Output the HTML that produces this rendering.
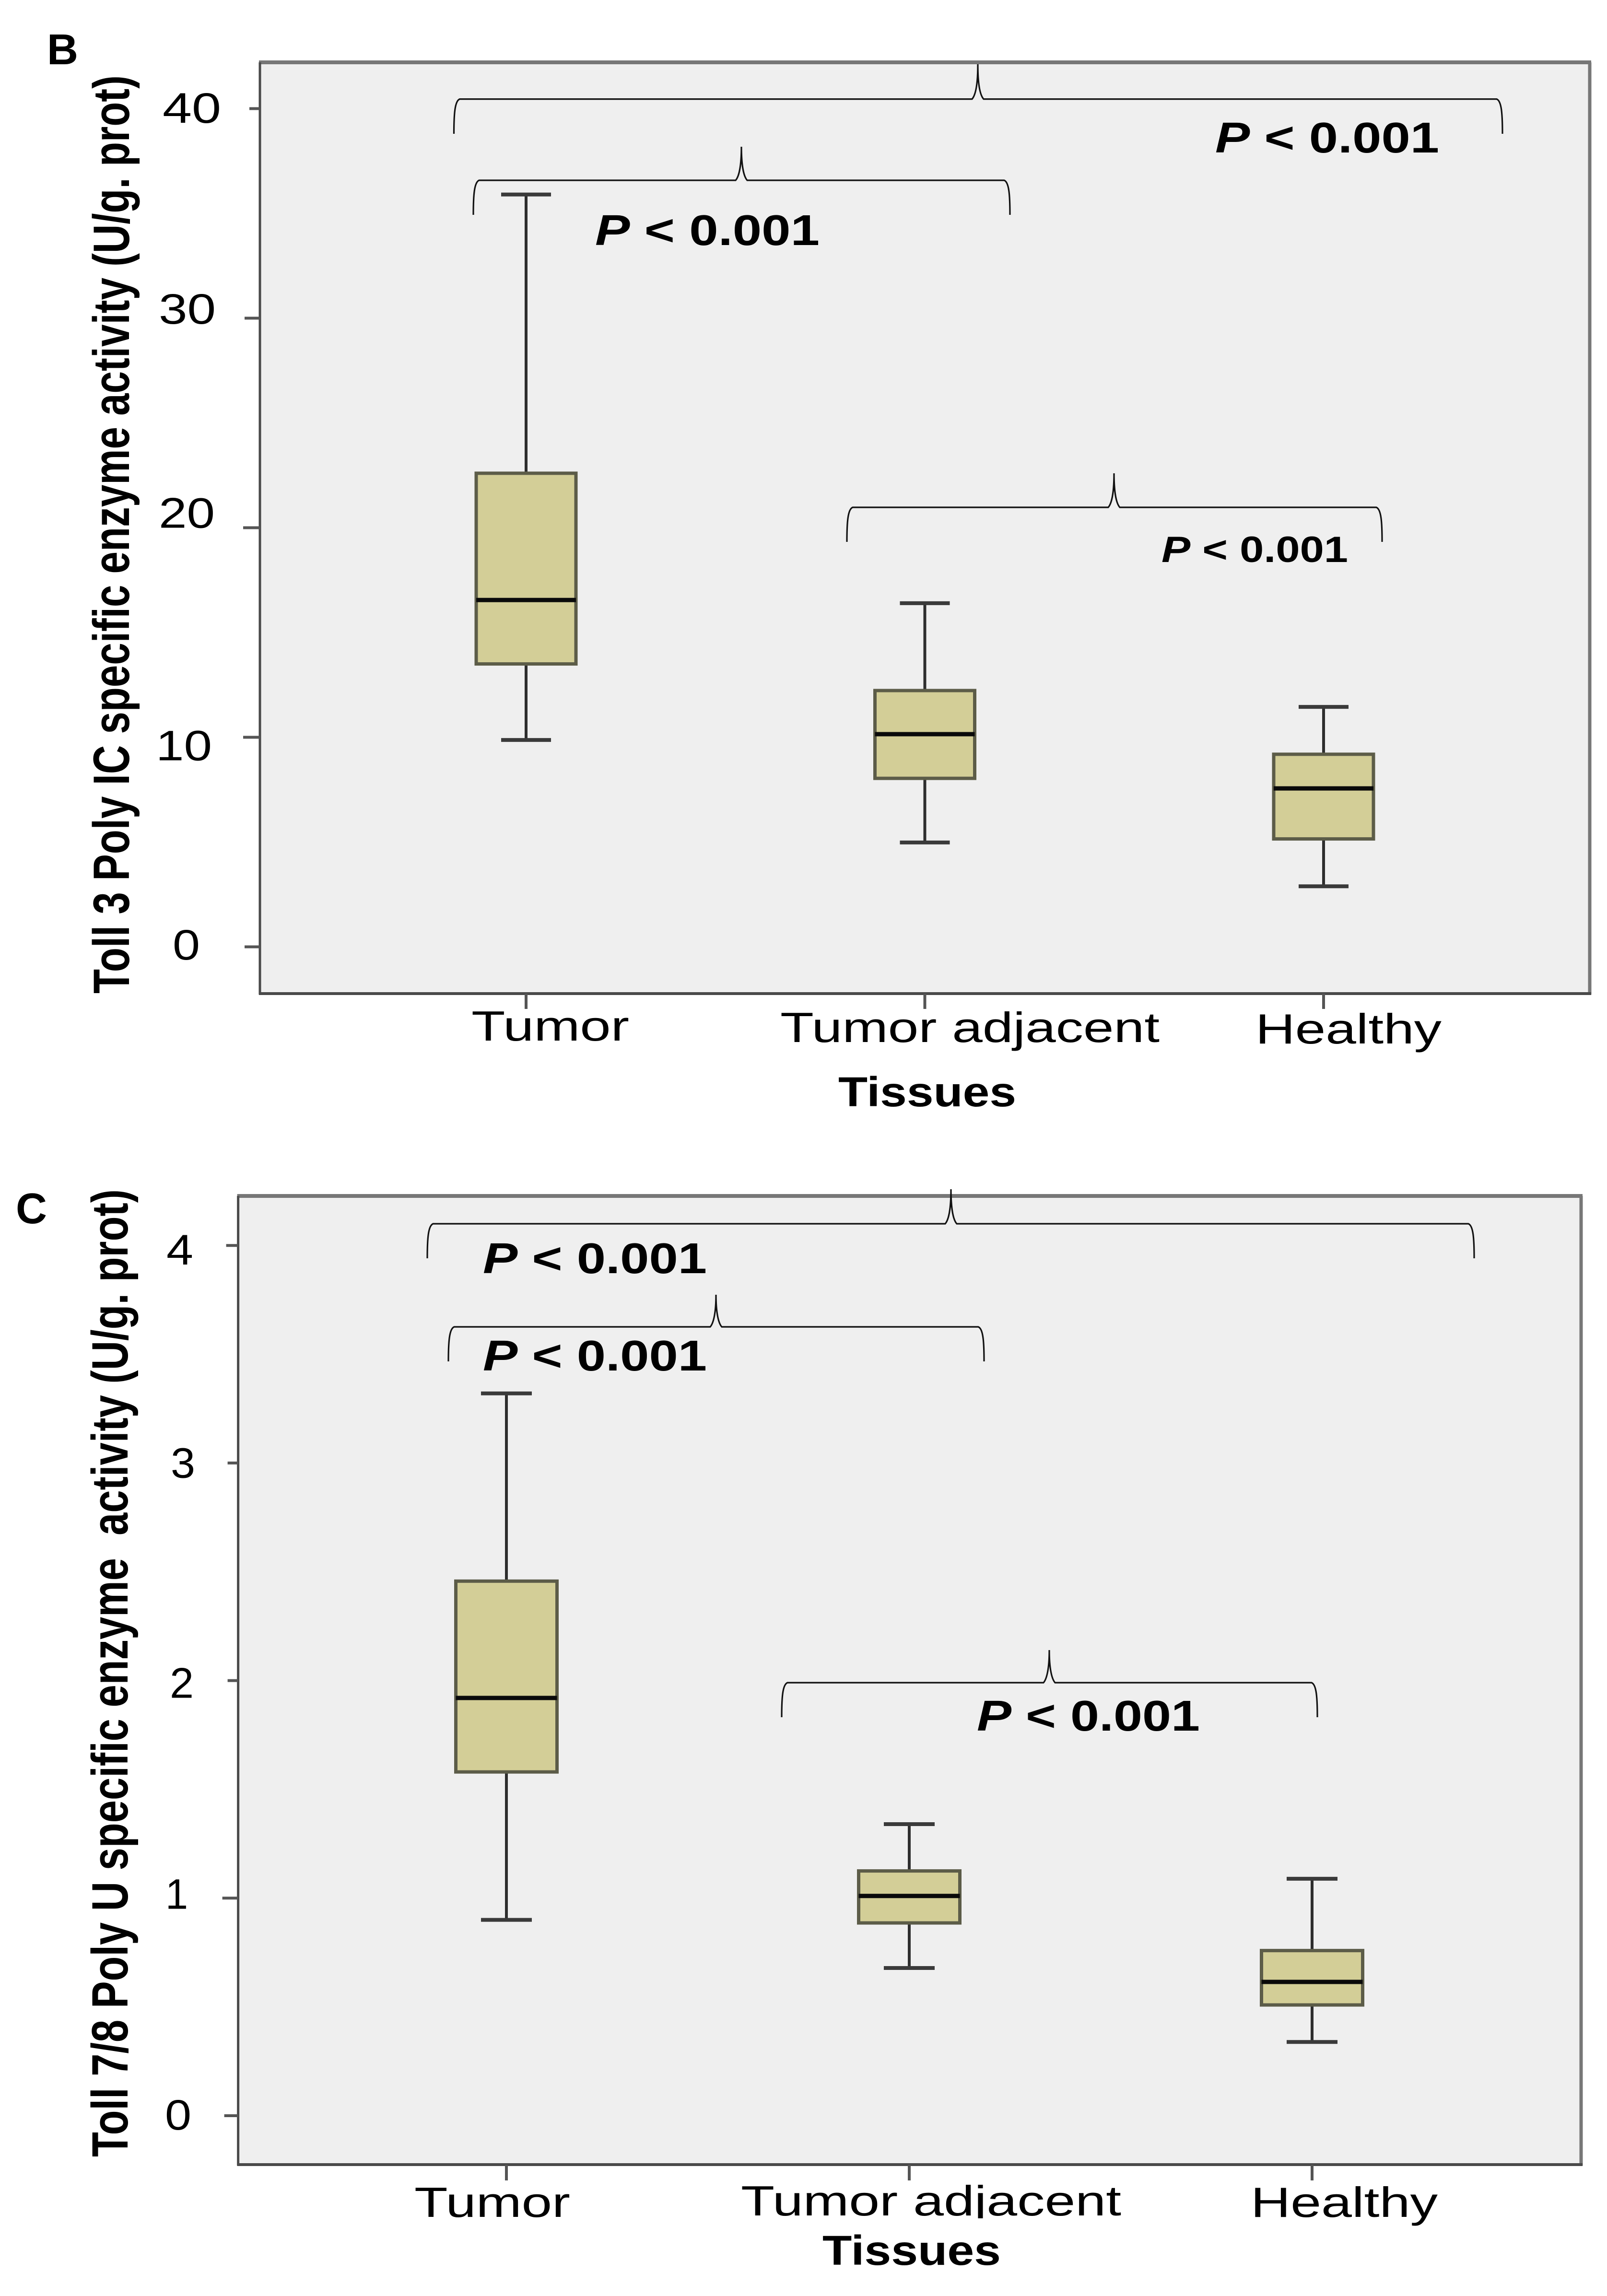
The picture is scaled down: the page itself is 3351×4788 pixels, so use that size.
<!DOCTYPE html>
<html lang="en">
<head>
<meta charset="utf-8">
<title>Toll-like receptor enzyme activity by tissue</title>
<style>
html,body{margin:0;padding:0;background:#fff;width:3351px;height:4788px;overflow:hidden}
svg{display:block}
text{font-family:"Liberation Sans",sans-serif;fill:#000}
</style>
</head>
<body>
<svg id="figure" xmlns="http://www.w3.org/2000/svg" width="3351" height="4788" viewBox="0 0 3351 4788"></svg>
<script>
// ---- chart data ----
const categories = ['Tumor', 'Tumor adjacent', 'Healthy'];

const panelBTickValues = [0, 10, 20, 30, 40];
const panelBTickLabels = ['0', '10', '20', '30', '40'];
const panelBLow = [9.87, 4.98, 2.89];
const panelBQ1 = [13.5, 8.04, 5.15];
const panelBMedian = [16.55, 10.15, 7.56];
const panelBQ3 = [22.6, 12.23, 9.19];
const panelBHigh = [35.9, 16.4, 11.45];

const panelCTickValues = [0, 1, 2, 3, 4];
const panelCTickLabels = ['0', '1', '2', '3', '4'];
const panelCLow = [0.90, 0.679, 0.339];
const panelCQ1 = [1.58, 0.886, 0.509];
const panelCMedian = [1.92, 1.01, 0.615];
const panelCQ3 = [2.457, 1.125, 0.759];
const panelCHigh = [3.32, 1.34, 1.089];

// ---- layout (pixels, not data) ----
const layoutB = {
  prefix: 'panel-b', letter: 'B', letterX: 98, letterY: 134,
  left: 542, right: 3315, top: 130, bottom: 2072,
  zeroY: 1974.5, unit: 43.7,
  firstX: 1097, stepX: 831.5,
  boxHalf: 104, capHalf: 52, tickDrop: 32,
  tickStub: [32, 35, 35, 32, 22],
  tickTextX: [360, 325, 331, 331, 339],
  tickTextW: [57, 117, 117, 119, 122],
  tickTextShift: [26.5, 48, 0, 11.5, 29.5],
  catTextX: [983, 1627, 2618], catTextW: [329, 791, 388], catTextY: [2170, 2173, 2176],
  xTitleX: 1748, xTitleW: 371, xTitleY: 2307,
  yTitle: 'Toll 3 Poly IC specific enzyme activity (U/g. prot)',
  yTitleX: 269, yTitleBottom: 2072, yTitleLen: 1915,
  braces: [
    {xl: 946.5, xr: 3133, ym: 206.6, yb: 279, ax: 2039, ay: 134},
    {xl: 987, xr: 2106, ym: 376, yb: 448, ax: 1546, ay: 306},
    {xl: 1766, xr: 2882, ym: 1058, yb: 1130, ax: 2323, ay: 987}
  ],
  pvals: [
    {x: 2534, w: 467, y: 318, size: 90},
    {x: 1241, w: 468, y: 511, size: 90},
    {x: 2422, w: 389, y: 1172, size: 76}
  ]
};
const layoutC = {
  prefix: 'panel-c', letter: 'C', letterX: 33, letterY: 2551,
  left: 496.6, right: 3297, top: 2494, bottom: 4514,
  zeroY: 4412, unit: 453.7,
  firstX: 1056, stepX: 840,
  boxHalf: 105.5, capHalf: 53, tickDrop: 33,
  tickStub: [29, 33, 22, 22, 25],
  tickTextX: [344, 345, 354, 356, 347],
  tickTextW: [55, 47, 50, 51, 56],
  tickTextShift: [29, 22.4, 36, 30.5, 40],
  catTextX: [864, 1545, 2608], catTextW: [325, 793, 390], catTextY: [4623, 4620, 4623],
  xTitleX: 1715, xTitleW: 372, xTitleY: 4723,
  yTitle: 'Toll 7/8 Poly U specific enzyme  activity (U/g. prot)',
  yTitleX: 266, yTitleBottom: 4498, yTitleLen: 2018,
  braces: [
    {xl: 891, xr: 3074, ym: 2552, yb: 2624, ax: 1983, ay: 2480},
    {xl: 935, xr: 2052, ym: 2767, yb: 2839, ax: 1493, ay: 2700},
    {xl: 1630, xr: 2747, ym: 3509, yb: 3581, ax: 2188, ay: 3441}
  ],
  pvals: [
    {x: 1007, w: 467, y: 2655, size: 90},
    {x: 1007, w: 467, y: 2858, size: 90},
    {x: 2037, w: 465, y: 3609, size: 90}
  ]
};

const SVGNS = 'http://www.w3.org/2000/svg';
const root = document.getElementById('figure');

function add(parent, tag, attrs, content) {
  const node = document.createElementNS(SVGNS, tag);
  for (const k in attrs) node.setAttribute(k, attrs[k]);
  if (content !== undefined) node.textContent = content;
  parent.appendChild(node);
  return node;
}
function slug(s) { return s.toLowerCase().replace(/\s+/g, '-'); }

function drawPanel(L, tickValues, tickLabels, low, q1, med, q3, high) {
  const yScale = v => L.zeroY - v * L.unit;
  const xScale = i => L.firstX + i * L.stepX;

  const panel = add(root, 'g', {});
  
  

  const letter = add(panel, 'text', {x: L.letterX, y: L.letterY, 'font-size': 90, 'font-weight': 700}, L.letter);
  
  

  const bg = add(panel, 'rect', {x: L.left, y: L.top, width: L.right - L.left, height: L.bottom - L.top, fill: '#efefef'});
  
  

  const frameTop = add(panel, 'line', {x1: L.left - 2, x2: L.right + 3, y1: L.top, y2: L.top, stroke: '#777', 'stroke-width': 8});
  
  

  const frameRight = add(panel, 'line', {x1: L.right, x2: L.right, y1: L.top, y2: L.bottom + 2, stroke: '#777', 'stroke-width': 7});
  
  

  const axisY = add(panel, 'line', {x1: L.left, x2: L.left, y1: L.top, y2: L.bottom + 2, stroke: '#4a4a4a', 'stroke-width': 5});
  
  

  const axisX = add(panel, 'line', {x1: L.left - 2, x2: L.right + 3, y1: L.bottom, y2: L.bottom, stroke: '#4a4a4a', 'stroke-width': 6});
  
  

  tickValues.forEach((v, i) => {
    const tick = add(panel, 'line', {x1: L.left - L.tickStub[i], x2: L.left, y1: yScale(v), y2: yScale(v), stroke: '#555', 'stroke-width': 6});
    
    

    const label = add(panel, 'text', {x: L.tickTextX[i], y: yScale(v) + L.tickTextShift[i], 'font-size': 89, textLength: L.tickTextW[i], lengthAdjust: 'spacingAndGlyphs'}, tickLabels[i]);
    
    
  });

  categories.forEach((cat, i) => {
    const cx = xScale(i);
    const group = add(panel, 'g', {});
    
    

    const whisker = add(group, 'line', {x1: cx, x2: cx, y1: yScale(high[i]), y2: yScale(low[i]), stroke: '#2e2e2e', 'stroke-width': 6});
    
    

    const capHigh = add(group, 'line', {x1: cx - L.capHalf, x2: cx + L.capHalf, y1: yScale(high[i]), y2: yScale(high[i]), stroke: '#3a3a3a', 'stroke-width': 8});
    
    

    const capLow = add(group, 'line', {x1: cx - L.capHalf, x2: cx + L.capHalf, y1: yScale(low[i]), y2: yScale(low[i]), stroke: '#3a3a3a', 'stroke-width': 8});
    
    

    const box = add(group, 'rect', {x: cx - L.boxHalf, y: yScale(q3[i]), width: L.boxHalf * 2, height: yScale(q1[i]) - yScale(q3[i]), fill: '#d3ce97', stroke: '#5c5c48', 'stroke-width': 7});
    
    

    const median = add(group, 'line', {x1: cx - L.boxHalf, x2: cx + L.boxHalf, y1: yScale(med[i]), y2: yScale(med[i]), stroke: '#0a0a0a', 'stroke-width': 9});
    
    

    const xTick = add(panel, 'line', {x1: cx, x2: cx, y1: L.bottom, y2: L.bottom + L.tickDrop, stroke: '#555', 'stroke-width': 6});
    
    

    const catLabel = add(panel, 'text', {x: L.catTextX[i], y: L.catTextY[i], 'font-size': 88, textLength: L.catTextW[i], lengthAdjust: 'spacingAndGlyphs'}, cat);
    
    
  });

  // white patch behind the x-axis title (it clips descenders of the label above)
  if (L.letter === 'C') {
    const patch = add(panel, 'rect', {x: 1540, y: 4626, width: 810, height: 40, fill: '#fff'});
    
    
  }

  const xTitle = add(panel, 'text', {x: L.xTitleX, y: L.xTitleY, 'font-size': 87, 'font-weight': 700, textLength: L.xTitleW, lengthAdjust: 'spacingAndGlyphs'}, 'Tissues');
  
  

  const yTitle = add(panel, 'text', {transform: 'translate(' + L.yTitleX + ',' + L.yTitleBottom + ') rotate(-90)', 'font-size': 107, 'font-weight': 700, textLength: L.yTitleLen, lengthAdjust: 'spacingAndGlyphs', 'xml:space': 'preserve', style: 'white-space:pre'}, L.yTitle);
  
  

  L.braces.forEach(b => {
    const d = 'M' + b.xl + ' ' + b.yb +
      ' C' + b.xl + ' ' + (b.ym + 30) + ' ' + (b.xl + 2) + ' ' + (b.ym + 4) + ' ' + (b.xl + 12) + ' ' + b.ym +
      ' L' + (b.ax - 12) + ' ' + b.ym +
      ' C' + (b.ax - 5) + ' ' + (b.ym - 8) + ' ' + b.ax + ' ' + (b.ym - 30) + ' ' + b.ax + ' ' + b.ay +
      ' C' + b.ax + ' ' + (b.ym - 30) + ' ' + (b.ax + 5) + ' ' + (b.ym - 8) + ' ' + (b.ax + 12) + ' ' + b.ym +
      ' L' + (b.xr - 12) + ' ' + b.ym +
      ' C' + (b.xr - 2) + ' ' + (b.ym + 4) + ' ' + b.xr + ' ' + (b.ym + 30) + ' ' + b.xr + ' ' + b.yb;
    const brace = add(panel, 'path', {d: d, fill: 'none', stroke: '#111', 'stroke-width': 3.2});
    
    
  });

  L.pvals.forEach(p => {
    const t = add(panel, 'text', {x: p.x, y: p.y, 'font-size': p.size, 'font-weight': 700, textLength: p.w, lengthAdjust: 'spacingAndGlyphs'});
    
    
    add(t, 'tspan', {'font-style': 'italic'}, 'P');
    t.appendChild(document.createTextNode(' < 0.001'));
  });
}

drawPanel(layoutB, panelBTickValues, panelBTickLabels, panelBLow, panelBQ1, panelBMedian, panelBQ3, panelBHigh);
drawPanel(layoutC, panelCTickValues, panelCTickLabels, panelCLow, panelCQ1, panelCMedian, panelCQ3, panelCHigh);
</script>
</body>
</html>
